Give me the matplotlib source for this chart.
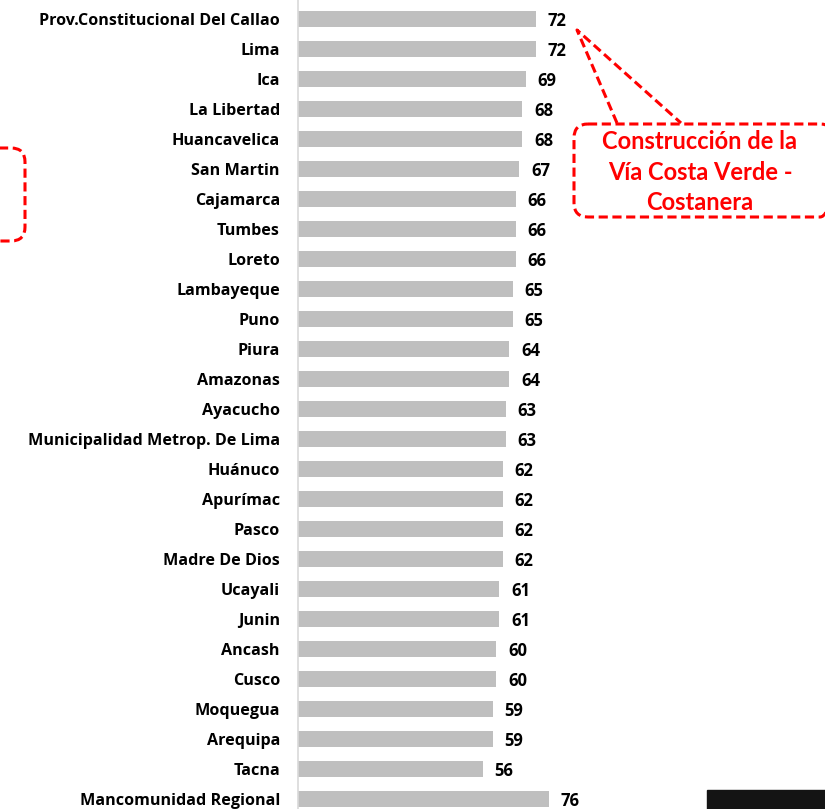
import matplotlib
matplotlib.use("Agg")
import matplotlib.pyplot as plt
from matplotlib.patches import FancyBboxPatch, Rectangle

# categories and values
regions = ["Prov.Constitucional Del Callao", "Lima", "Ica", "La Libertad", "Huancavelica",
           "San Martin", "Cajamarca", "Tumbes", "Loreto", "Lambayeque", "Puno", "Piura",
           "Amazonas", "Ayacucho", "Municipalidad Metrop. De Lima", "Huánuco", "Apurímac",
           "Pasco", "Madre De Dios", "Ucayali", "Junin", "Ancash", "Cusco", "Moquegua",
           "Arequipa", "Tacna", "Mancomunidad Regional"]
scores = [72, 72, 69, 68, 68, 67, 66, 66, 66, 65, 65, 64, 64, 63, 63, 62, 62, 62, 62,
          61, 61, 60, 60, 59, 59, 56, 76]
callout_text = "Construcción de la\nVía Costa Verde -\nCostanera"

W, H = 825, 809
fig = plt.figure(figsize=(W / 100, H / 100), dpi=100)
font = "Open Sans"

# main bar axes, pixel geometry of the original
left = 298 / W
ax = fig.add_axes([left, 0, 1 - left, 1])
ypos = list(range(len(regions)))
ax.barh(ypos, scores, height=0.52, color="#bfbfbf")
ax.set_xlim(0, (W - 298) / 3.3)
ax.set_ylim((H - 19) / 30, -19 / 30)
for y, v in zip(ypos, scores):
    ax.text(v + 3.6, y + 0.06, str(v), va="center", ha="left", fontsize=12,
            fontweight="bold", family=font, color="black")
ax.set_yticks(ypos)
ax.set_yticklabels(regions, fontsize=11.6, fontweight="bold", family=font)
ax.tick_params(axis="y", length=0, pad=13)
ax.set_xticks([])
for s in ["top", "right", "bottom"]:
    ax.spines[s].set_visible(False)
ax.spines["left"].set_color("#d9d9d9")
ax.spines["left"].set_linewidth(1.2)

# overlay in pixel coords for the annotation shapes
ov = fig.add_axes([0, 0, 1, 1], facecolor="none")
ov.set_xlim(0, W)
ov.set_ylim(H, 0)
ov.axis("off")

red = "#ff0000"
box = FancyBboxPatch((574, 124), 260, 93, boxstyle="round,pad=0,rounding_size=14",
                     fill=False, edgecolor=red, linewidth=2.2, linestyle=(0, (3, 1.5)))
ov.add_patch(box)
ov.plot([617, 577, 681], [123, 30, 123], color=red, linewidth=2.2,
        linestyle=(0, (3, 1.5)), solid_capstyle="butt")
ov.text(700, 172, callout_text, ha="center", va="center", color=red, fontsize=17,
        fontweight="bold", family="Lato", linespacing=1.38)

box2 = FancyBboxPatch((-60, 148), 85, 93, boxstyle="round,pad=0,rounding_size=14",
                      fill=False, edgecolor=red, linewidth=2.2, linestyle=(0, (3, 1.5)))
ov.add_patch(box2)

ov.add_patch(Rectangle((707, 790), 130, 30, color="#141414"))

fig.savefig("out.png", dpi=100)
